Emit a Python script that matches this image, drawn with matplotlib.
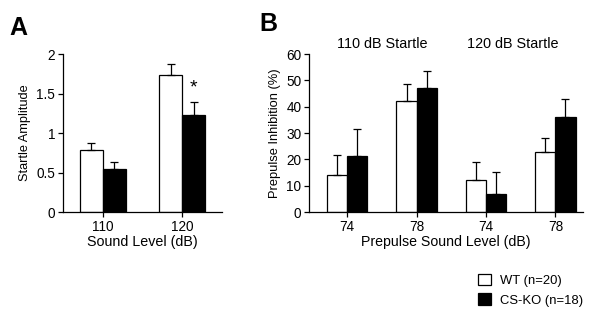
import matplotlib
matplotlib.use('Agg')
import matplotlib.pyplot as plt
import matplotlib.patches as patches
import numpy as np

plt.rcParams['font.family'] = ['Liberation Sans', 'DejaVu Sans']

# Panel A: startle amplitude
a_levels = ["110", "120"]
a_wt = [0.78, 1.73]
a_wt_err = [0.09, 0.15]
a_ko = [0.55, 1.23]
a_ko_err = [0.08, 0.16]

# Panel B: prepulse inhibition
b_levels = ["74", "78", "74", "78"]
b_wt = [14.2, 42.3, 12.0, 22.7]
b_wt_err = [7.5, 6.4, 7.0, 5.6]
b_ko = [21.3, 47.3, 6.7, 36.0]
b_ko_err = [10.2, 6.2, 8.5, 6.8]
b_groups = ["110 dB Startle", "120 dB Startle"]

legend_labels = ["WT (n=20)", "CS-KO (n=18)"]

W = 0.29
err_kw = dict(elinewidth=0.9, capsize=3, capthick=0.9, ecolor="black")


def style_axis(ax):
    for s in ("top", "right"):
        ax.spines[s].set_visible(False)
    for s in ("left", "bottom"):
        ax.spines[s].set_linewidth(0.9)
    ax.tick_params(direction="out", length=3.5, width=0.9, labelsize=9.8, pad=2)


def paired_bars(ax, wt, wt_err, ko, ko_err):
    x = np.arange(len(wt))
    lo = np.zeros(len(wt))
    ax.bar(x - W / 2, wt, W, color="white", edgecolor="black", linewidth=0.9,
           yerr=[lo, wt_err], error_kw=err_kw, zorder=2)
    ax.bar(x + W / 2, ko, W, color="black", edgecolor="black", linewidth=0.9,
           yerr=[lo, ko_err], error_kw=err_kw, zorder=2)
    return x


fig = plt.figure(figsize=(6, 3.18), dpi=100)

# A
axA = fig.add_axes([0.105, 0.333, 0.265, 0.497])
x = paired_bars(axA, a_wt, a_wt_err, a_ko, a_ko_err)
axA.set_xlim(-0.5, 1.5)
axA.set_ylim(0, 2)
axA.set_yticks([0, 0.5, 1, 1.5, 2])
axA.set_yticklabels(["0", "0.5", "1", "1.5", "2"])
axA.set_xticks(x)
axA.set_xticklabels(a_levels)
axA.set_ylabel("Startle Amplitude", fontsize=9.2, labelpad=4)
axA.set_xlabel("Sound Level (dB)", fontsize=10.3, labelpad=1)
style_axis(axA)
axA.text(1 + W / 2, 1.57, "*", ha="center", va="center", fontsize=14)

# B
axB = fig.add_axes([0.515, 0.333, 0.457, 0.497])
x = paired_bars(axB, b_wt, b_wt_err, b_ko, b_ko_err)
axB.set_xlim(-0.55, 3.4)
axB.set_ylim(0, 60)
axB.set_yticks(range(0, 61, 10))
axB.set_xticks(x)
axB.set_xticklabels(b_levels)
axB.set_ylabel("Prepulse Inhibition (%)", fontsize=9.3, labelpad=4)
axB.set_xlabel("Prepulse Sound Level (dB)", fontsize=10.2, labelpad=1)
style_axis(axB)
for xc, g in zip([0.5, 2.38], b_groups):
    axB.text(xc, 63.8, g, ha="center", va="center", fontsize=10.4)

# panel letters
fig.text(0.015, 0.913, "A", fontsize=18, fontweight="bold", ha="left", va="center")
fig.text(0.432, 0.925, "B", fontsize=18, fontweight="bold", ha="left", va="center")

handles = [patches.Patch(facecolor="white", edgecolor="black", linewidth=0.9),
           patches.Patch(facecolor="black", edgecolor="black", linewidth=0.9)]
fig.legend(handles, legend_labels, loc="upper left", bbox_to_anchor=(0.785, 0.16),
           frameon=False, fontsize=9.4, handlelength=1.0, handleheight=1.0,
           handletextpad=0.7, labelspacing=0.5, borderpad=0)

fig.savefig("out.png", dpi=100)
